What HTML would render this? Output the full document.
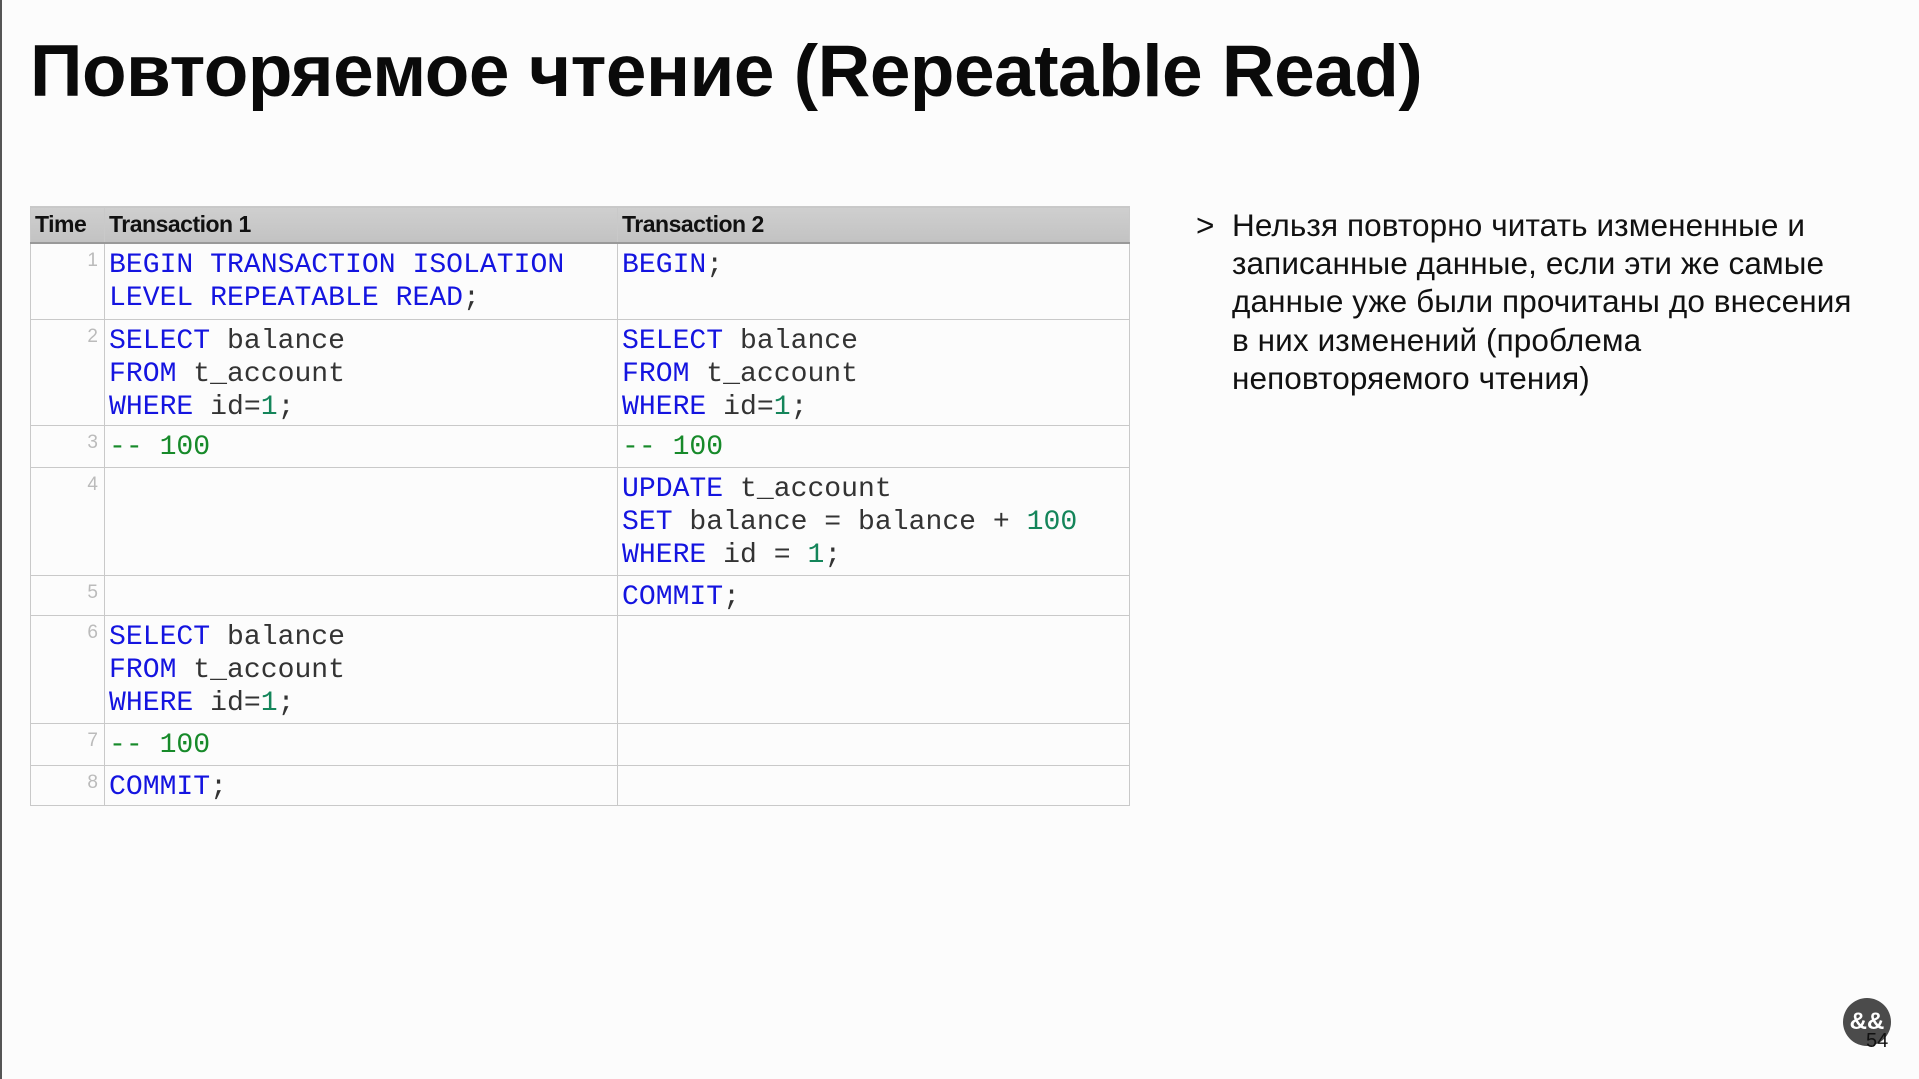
<!DOCTYPE html>
<html><head><meta charset="utf-8"><style>
html,body{margin:0;padding:0}
body{width:1919px;height:1079px;background:#fcfcfc;position:relative;overflow:hidden;font-family:"Liberation Sans","DejaVu Sans",sans-serif}
.lb{position:absolute;left:0;top:0;width:2px;height:1079px;background:#555}
h1{position:absolute;left:30px;top:30px;margin:0;font-size:73px;font-weight:bold;color:#0a0a0a;white-space:nowrap;letter-spacing:-0.5px}
table{position:absolute;left:30px;top:206px;border-collapse:collapse;width:1099px;table-layout:fixed}
td,th{border:1.5px solid #c9c9c9;vertical-align:top;padding:0}
th{background:linear-gradient(#cfcfcf,#c2c2c2);height:35px;text-align:left;font-size:23px;font-weight:bold;color:#111;padding-left:4px;vertical-align:middle;border-bottom:2px solid #999;letter-spacing:-0.5px}
td.n{text-align:right;color:#bbb;font-family:"Liberation Sans",sans-serif;font-size:19px;padding:6px 6px 0 0}
td.c{font-family:"Liberation Mono","DejaVu Sans Mono",monospace;font-size:28.1px;line-height:33px;color:#333;padding:5px 0 0 4px;white-space:pre}
.k{color:#1414e0}.g{color:#178a2a}.num{color:#14855a}
.txt{position:absolute;left:1196px;top:206px;font-size:31.5px;line-height:38.2px;color:#111;width:720px}
.txt .a{position:absolute;left:0;top:0}
.txt .b{position:absolute;left:36px;top:0;white-space:nowrap;letter-spacing:0.1px}
.logo{position:absolute;left:1843px;top:998px;width:48px;height:48px;border-radius:50%;background:#4b4b4b;color:#fff;font-size:24px;font-weight:bold;text-align:center;line-height:48px}
.pg{position:absolute;left:1866px;top:1030px;font-size:20px;color:#111}
</style></head><body>
<div class="lb"></div>
<h1>Повторяемое чтение (Repeatable Read)</h1>
<table>
<colgroup><col style="width:74px"><col style="width:513px"><col style="width:512px"></colgroup>
<tr><th>Time</th><th>Transaction 1</th><th>Transaction 2</th></tr>
<tr style="height:76px"><td class="n">1</td><td class="c"><span class="k">BEGIN TRANSACTION ISOLATION
LEVEL REPEATABLE READ</span>;</td><td class="c"><span class="k">BEGIN</span>;</td></tr>
<tr style="height:106px"><td class="n">2</td><td class="c"><span class="k">SELECT</span> balance
<span class="k">FROM</span> t_account
<span class="k">WHERE</span> id=<span class="num">1</span>;</td><td class="c"><span class="k">SELECT</span> balance
<span class="k">FROM</span> t_account
<span class="k">WHERE</span> id=<span class="num">1</span>;</td></tr>
<tr style="height:42px"><td class="n">3</td><td class="c"><span class="g">-- 100</span></td><td class="c"><span class="g">-- 100</span></td></tr>
<tr style="height:108px"><td class="n">4</td><td class="c"></td><td class="c"><span class="k">UPDATE</span> t_account
<span class="k">SET</span> balance = balance + <span class="num">100</span>
<span class="k">WHERE</span> id = <span class="num">1</span>;</td></tr>
<tr style="height:40px"><td class="n">5</td><td class="c"></td><td class="c"><span class="k">COMMIT</span>;</td></tr>
<tr style="height:108px"><td class="n">6</td><td class="c"><span class="k">SELECT</span> balance
<span class="k">FROM</span> t_account
<span class="k">WHERE</span> id=<span class="num">1</span>;</td><td class="c"></td></tr>
<tr style="height:42px"><td class="n">7</td><td class="c"><span class="g">-- 100</span></td><td class="c"></td></tr>
<tr style="height:40px"><td class="n">8</td><td class="c"><span class="k">COMMIT</span>;</td><td class="c"></td></tr>
</table>
<div class="txt"><span class="a">&gt;</span><div class="b">Нельзя повторно читать измененные и<br>записанные данные, если эти же самые<br>данные уже были прочитаны до внесения<br>в них изменений (проблема<br>неповторяемого чтения)</div></div>
<div class="logo">&amp;&amp;</div>
<div class="pg">54</div>
</body></html>
